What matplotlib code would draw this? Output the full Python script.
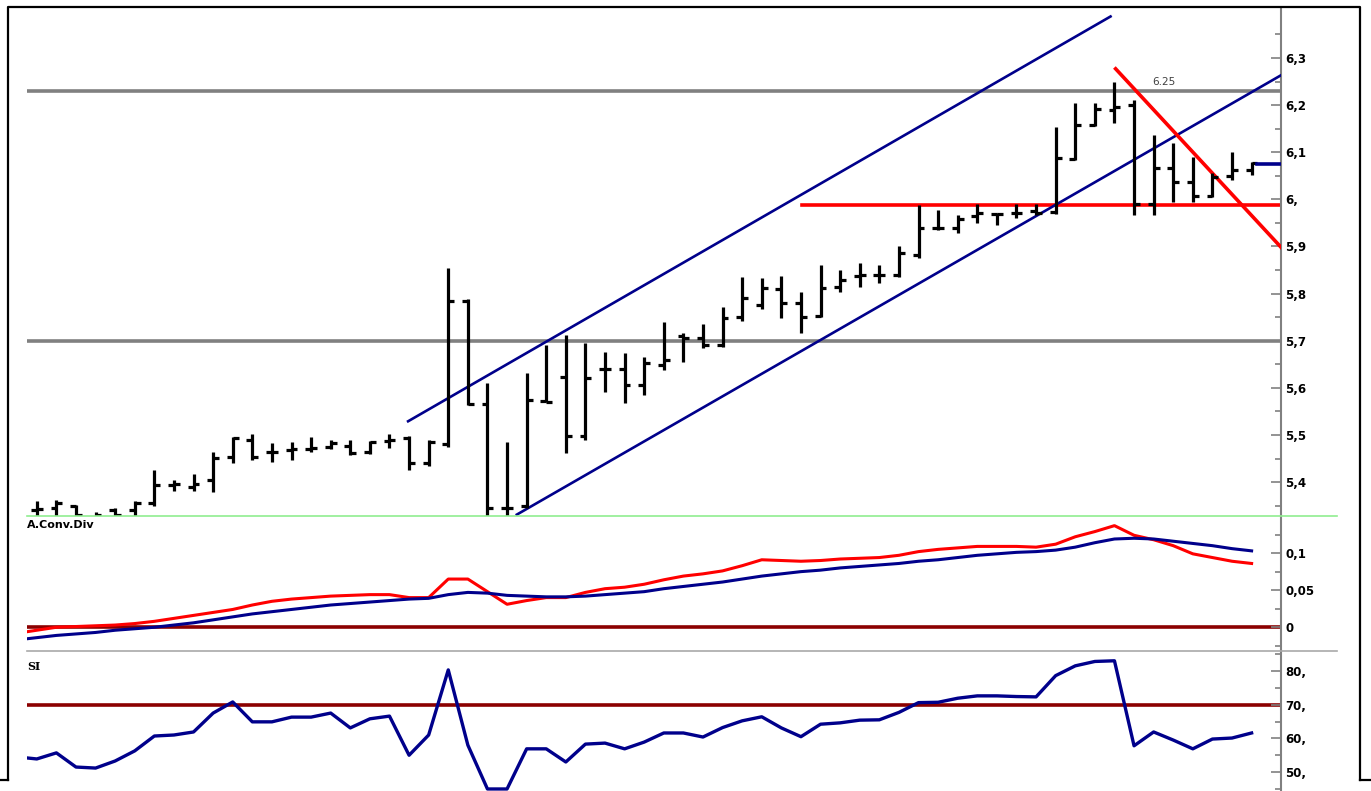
import numpy as np
import matplotlib.pyplot as plt
from matplotlib.lines import Line2D

# OHLC bars, one per session (index 0..62)
opens = [5.340, 5.344, 5.350, 5.315, 5.340, 5.340, 5.355, 5.393, 5.390, 5.405,
         5.453, 5.489, 5.463, 5.467, 5.470, 5.475, 5.476, 5.463, 5.488, 5.493,
         5.440, 5.480, 5.785, 5.565, 5.346, 5.350, 5.572, 5.624, 5.497, 5.641,
         5.641, 5.605, 5.648, 5.710, 5.705, 5.690, 5.750, 5.775, 5.810, 5.780,
         5.752, 5.814, 5.838, 5.840, 5.839, 5.882, 5.940, 5.940, 5.965, 5.968,
         5.970, 5.975, 5.973, 6.086, 6.158, 6.190, 6.200, 5.990, 6.067, 6.037,
         6.007, 6.050, 6.062]
highs = [5.360, 5.361, 5.352, 5.337, 5.344, 5.360, 5.425, 5.404, 5.418, 5.463,
         5.495, 5.503, 5.482, 5.484, 5.495, 5.490, 5.490, 5.488, 5.503, 5.497,
         5.490, 5.854, 5.789, 5.610, 5.484, 5.631, 5.691, 5.712, 5.695, 5.676,
         5.674, 5.665, 5.740, 5.716, 5.735, 5.771, 5.835, 5.832, 5.838, 5.803,
         5.861, 5.850, 5.865, 5.860, 5.901, 5.988, 5.978, 5.967, 5.990, 5.971,
         5.990, 5.990, 6.154, 6.205, 6.205, 6.250, 6.211, 6.137, 6.120, 6.090,
         6.056, 6.100, 6.080]
lows = [5.315, 5.320, 5.310, 5.300, 5.310, 5.320, 5.350, 5.382, 5.382, 5.378,
        5.440, 5.446, 5.442, 5.446, 5.463, 5.470, 5.458, 5.460, 5.473, 5.425,
        5.435, 5.474, 5.563, 5.300, 5.300, 5.346, 5.569, 5.461, 5.489, 5.591,
        5.567, 5.584, 5.638, 5.655, 5.684, 5.686, 5.742, 5.768, 5.748, 5.716,
        5.750, 5.803, 5.814, 5.823, 5.835, 5.876, 5.935, 5.929, 5.950, 5.946,
        5.960, 5.967, 5.969, 6.083, 6.156, 6.162, 5.967, 5.967, 5.995, 5.995,
        6.005, 6.041, 6.052]
closes = [5.342, 5.355, 5.330, 5.330, 5.330, 5.356, 5.393, 5.395, 5.395, 5.452,
          5.493, 5.453, 5.463, 5.470, 5.472, 5.482, 5.461, 5.485, 5.490, 5.440,
          5.485, 5.785, 5.566, 5.345, 5.346, 5.575, 5.570, 5.497, 5.620, 5.641,
          5.605, 5.652, 5.660, 5.705, 5.690, 5.748, 5.790, 5.812, 5.780, 5.750,
          5.811, 5.829, 5.840, 5.840, 5.886, 5.939, 5.940, 5.958, 5.970, 5.968,
          5.972, 5.970, 6.088, 6.158, 6.192, 6.195, 5.990, 6.067, 6.037, 6.007,
          6.048, 6.062, 6.078]

# indicators, index -1..62
macd = [-0.008, -0.004, 0.000, 0.001, 0.002, 0.003, 0.005, 0.008, 0.012, 0.016,
        0.020, 0.024, 0.030, 0.035, 0.038, 0.040, 0.042, 0.043, 0.044, 0.044,
        0.040, 0.040, 0.065, 0.065, 0.048, 0.031, 0.036, 0.040, 0.040, 0.047,
        0.052, 0.054, 0.058, 0.064, 0.069, 0.072, 0.076, 0.083, 0.091, 0.090,
        0.089, 0.090, 0.092, 0.093, 0.094, 0.097, 0.102, 0.105, 0.107, 0.109,
        0.109, 0.109, 0.108, 0.112, 0.122, 0.129, 0.137, 0.124, 0.118, 0.110,
        0.099, 0.094, 0.089, 0.086]
signal = [-0.017, -0.014, -0.011, -0.009, -0.007, -0.004, -0.002, 0.000, 0.003, 0.006,
          0.010, 0.014, 0.018, 0.021, 0.024, 0.027, 0.030, 0.032, 0.034, 0.036,
          0.038, 0.039, 0.044, 0.047, 0.046, 0.043, 0.042, 0.041, 0.041, 0.042,
          0.044, 0.046, 0.048, 0.052, 0.055, 0.058, 0.061, 0.065, 0.069, 0.072,
          0.075, 0.077, 0.080, 0.082, 0.084, 0.086, 0.089, 0.091, 0.094, 0.097,
          0.099, 0.101, 0.102, 0.104, 0.108, 0.114, 0.119, 0.120, 0.119, 0.116,
          0.113, 0.110, 0.106, 0.103]
rsi = [54.5, 53.9, 55.7, 51.5, 51.2, 53.3, 56.3, 60.7, 61.0, 61.9,
       67.5, 70.8, 64.9, 64.9, 66.3, 66.3, 67.5, 63.1, 65.8, 66.6,
       55.0, 61.0, 80.3, 58.0, 45.0, 45.0, 56.9, 56.9, 53.0, 58.3,
       58.6, 56.9, 58.9, 61.6, 61.6, 60.4, 63.2, 65.2, 66.4, 63.1,
       60.5, 64.2, 64.6, 65.4, 65.5, 67.7, 70.6, 70.7, 71.9, 72.6,
       72.6, 72.4, 72.3, 78.6, 81.5, 82.8, 83.0, 57.8, 61.9, 59.5,
       56.9, 59.8, 60.1, 61.6]

# drawing tools on the price panel: (x0, y0, x1, y1) in bar index / price
channel_upper = (18.95, 5.529, 54.8, 6.388)
channel_lower = (24.5, 5.331, 63.53, 6.264)
red_trend = (55.06, 6.277, 63.53, 5.897)
support_red = (39.07, 5.987)
gray_levels = [6.23, 5.70]
last_price = 6.075

price_ticks = [5.4, 5.5, 5.6, 5.7, 5.8, 5.9, 6.0, 6.1, 6.2, 6.3]
price_labels = ["5,4", "5,5", "5,6", "5,7", "5,8", "5,9", "6,", "6,1", "6,2", "6,3"]
macd_ticks = [0, 0.05, 0.1]
macd_labels = ["0", "0,05", "0,1"]
rsi_ticks = [50, 60, 70, 80]
rsi_labels = ["50,", "60,", "70,", "80,"]

W, H = 1371, 791
fig = plt.figure(figsize=(W / 100, H / 100), dpi=100)
fig.patch.set_facecolor("white")

left, right = 27 / W, 1281 / W


def panel(top, bottom):
    return fig.add_axes([left, 1 - bottom / H, right - left, (bottom - top) / H])


ax1 = panel(8, 516)
ax2 = panel(516, 651)
ax3 = panel(651, 791)

NAVY = "#00008B"
MAROON = "#8B0000"

for ax in (ax1, ax2, ax3):
    ax.set_xlim(-0.5, 63.5)
    ax.set_facecolor("none")
    for s in ("left", "top", "bottom"):
        ax.spines[s].set_visible(False)
    ax.spines["right"].set_color("#808080")
    ax.spines["right"].set_linewidth(1.5)
    ax.yaxis.tick_right()
    ax.set_xticks([])
    ax.tick_params(axis="y", which="major", direction="in", length=7, width=1.2,
                   color="#808080", pad=3, labelsize=8.5)
    ax.tick_params(axis="y", which="minor", direction="in", length=4, width=1.2,
                   color="#808080")

# price panel
idx = np.arange(len(opens))
ax1.set_ylim(5.328, 6.406)
for y in gray_levels:
    ax1.axhline(y, color="#808080", lw=2.6, zorder=1)
ax1.plot([support_red[0], 63.5], [support_red[1]] * 2, color="red", lw=2.6, zorder=2)
for seg in (channel_upper, channel_lower):
    ax1.plot([seg[0], seg[2]], [seg[1], seg[3]], color=NAVY, lw=1.9, zorder=3)
ax1.plot([red_trend[0], red_trend[2]], [red_trend[1], red_trend[3]], color="red", lw=2.6, zorder=3)

tick = 0.3
ax1.vlines(idx, lows, highs, color="black", lw=2.3, zorder=4)
ax1.hlines(opens, idx - tick, idx, color="black", lw=2.3, zorder=4)
ax1.hlines(closes, idx, idx + tick, color="black", lw=2.3, zorder=4)
ax1.plot([idx[-1] + tick, 63.5], [last_price] * 2, color=NAVY, lw=2.6, zorder=4)
ax1.text(57.5, 6.238, "6.25", fontsize=7.5, color="#404040", ha="center", va="bottom")

ax1.set_yticks(price_ticks)
ax1.set_yticklabels(price_labels, fontweight="bold")
ax1.set_yticks(np.arange(5.35, 6.40, 0.1), minor=True)

# MACD panel
ind_x = np.arange(-1, len(macd) - 1)
ax2.set_ylim(-0.032, 0.150)
ax2.axhline(0, color=MAROON, lw=2.6, zorder=1)
ax2.plot(ind_x, macd, color="red", lw=2.2, zorder=3)
ax2.plot(ind_x, signal, color=NAVY, lw=2.2, zorder=3)
ax2.set_yticks(macd_ticks)
ax2.set_yticklabels(macd_labels, fontweight="bold")
ax2.set_yticks([-0.025, 0.025, 0.075, 0.125], minor=True)
ax2.text(0.0, 0.97, "A.Conv.Div", transform=ax2.transAxes, fontsize=8,
         fontweight="bold", ha="left", va="top")

# RSI panel
ax3.set_ylim(44.4, 85.9)
ax3.axhline(70, color=MAROON, lw=2.6, zorder=1)
ax3.plot(ind_x, rsi, color=NAVY, lw=2.4, zorder=3)
ax3.set_yticks(rsi_ticks)
ax3.set_yticklabels(rsi_labels, fontweight="bold")
ax3.set_yticks([45, 55, 65, 75, 85], minor=True)
ax3.text(0.0, 0.93, "SI", transform=ax3.transAxes, fontsize=8,
         fontweight="bold", family="serif", ha="left", va="top")

# panel separators and window frame
fig.add_artist(Line2D([27 / W, 1337 / W], [1 - 516 / H] * 2, color="#90EE90", lw=1.2))
fig.add_artist(Line2D([27 / W, 1337 / W], [1 - 651 / H] * 2, color="#A9A9A9", lw=1.2))
fig.add_artist(Line2D([8 / W, 8 / W, 1360 / W, 1360 / W],
                      [1 - 780 / H, 1 - 7 / H, 1 - 7 / H, 1 - 780 / H], color="black", lw=1.6))
fig.add_artist(Line2D([0, 8 / W], [1 - 780 / H] * 2, color="black", lw=1.6))
fig.add_artist(Line2D([1360 / W, 1], [1 - 780 / H] * 2, color="black", lw=1.6))

fig.savefig("out.png", dpi=100, facecolor="white")
